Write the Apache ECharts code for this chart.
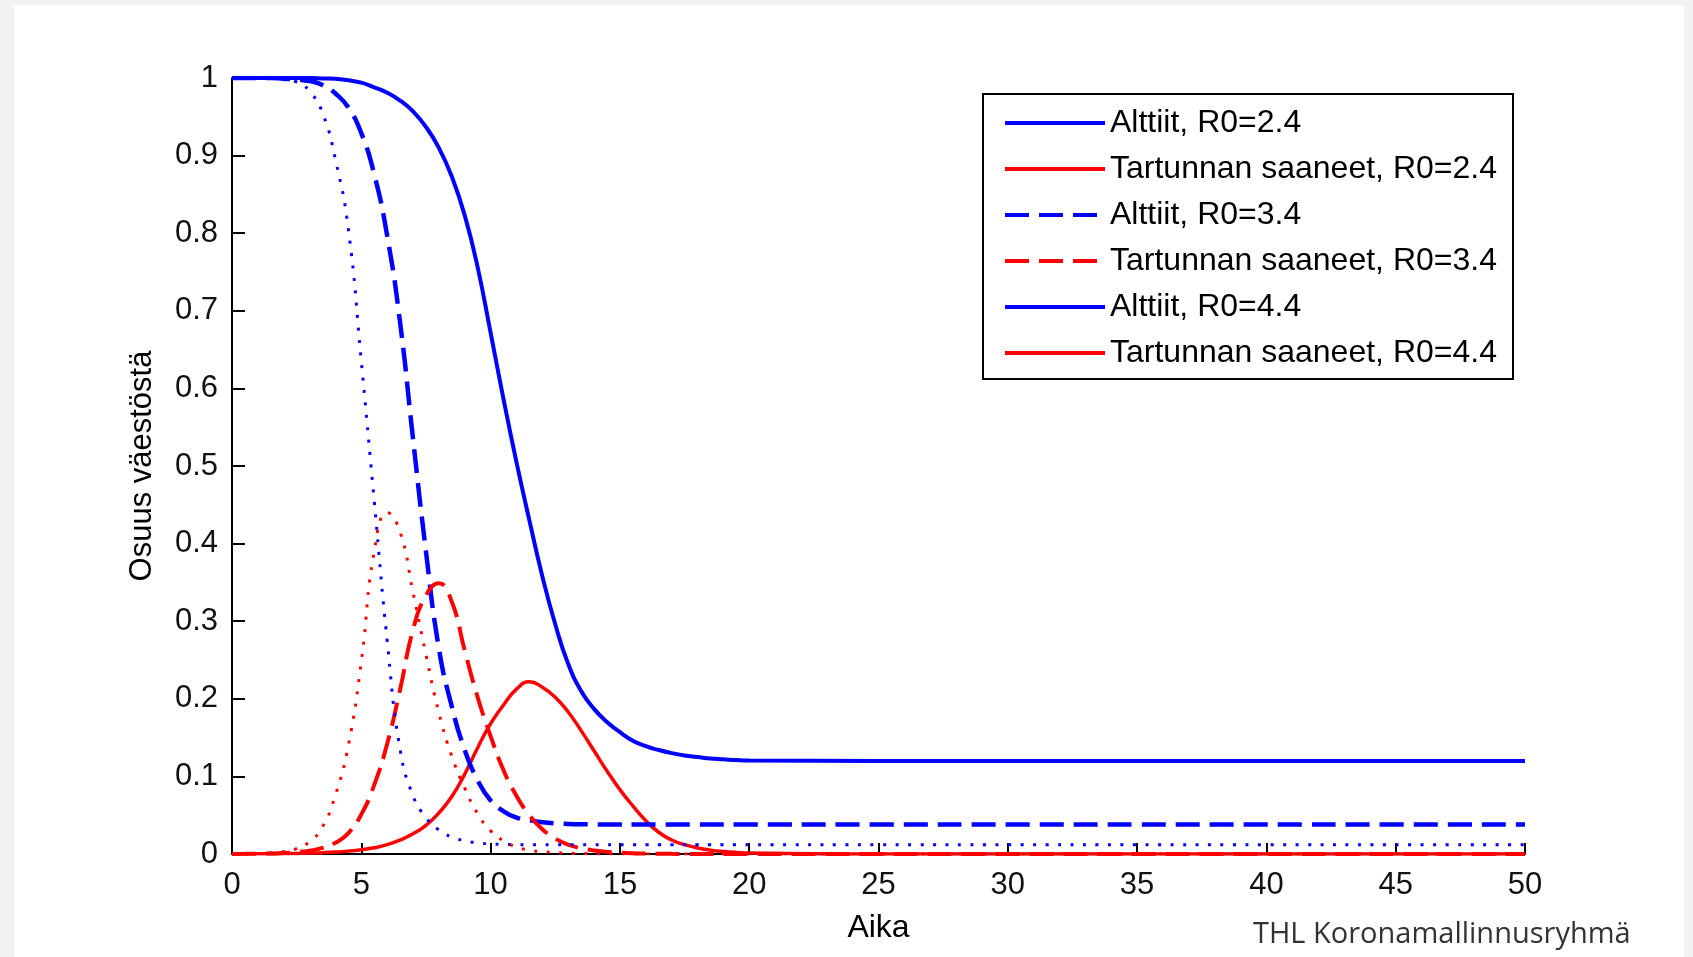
<!DOCTYPE html>
<html><head><meta charset="utf-8">
<script src="https://cdn.jsdelivr.net/npm/echarts@6/dist/echarts.min.js"></script>
<style>html,body{margin:0;padding:0;background:#f2f2f2;} #c{width:1693px;height:957px;}</style>
</head><body><div id="c"></div>
<script>
// time points (Aika)
const time = [0,0.5,1,1.5,2,2.5,3,3.5,4,4.5,5,5.5,6,6.5,7,7.5,8,8.5,9,9.5,10,10.5,11,11.5,12,12.5,13,13.5,14,14.5,15,15.5,16,16.5,17,17.5,18,18.5,19,19.5,20,25,30,35,40,45,50];
// Alttiit (susceptible), R0=2.4
const alttiit24 = [1,1,1,1,1,1,1,0.9995,0.999,0.997,0.994,0.988,0.981,0.971,0.957,0.937,0.91,0.873,0.823,0.756,0.672,0.586,0.505,0.43,0.358,0.296,0.245,0.21,0.187,0.17,0.157,0.146,0.139,0.134,0.13,0.127,0.125,0.123,0.122,0.121,0.1205,0.12,0.12,0.12,0.12,0.12,0.12];
// Tartunnan saaneet (infected), R0=2.4
const tartunnan24 = [0.0001,0.00015,0.0002,0.0003,0.0005,0.0008,0.0012,0.0017,0.0025,0.0037,0.0055,0.008,0.012,0.018,0.026,0.037,0.053,0.074,0.103,0.137,0.168,0.192,0.2125,0.222,0.215,0.202,0.183,0.159,0.133,0.107,0.083,0.062,0.043,0.028,0.018,0.012,0.0078,0.005,0.0032,0.002,0.0013,0,0,0,0,0,0];
// Alttiit, R0=3.4
const alttiit34 = [1,1,1,1,0.999,0.998,0.996,0.991,0.98,0.962,0.929,0.876,0.797,0.685,0.535,0.39,0.265,0.19,0.134,0.095,0.069,0.055,0.047,0.0435,0.041,0.0395,0.0388,0.0384,0.0382,0.0381,0.038,0.038,0.038,0.038,0.038,0.038,0.038,0.038,0.038,0.038,0.038,0.038,0.038,0.038,0.038,0.038,0.038];
// Tartunnan saaneet, R0=3.4
const tartunnan34 = [0.0001,0.0002,0.0004,0.0007,0.0013,0.0024,0.0043,0.0078,0.0145,0.027,0.051,0.089,0.142,0.212,0.289,0.333,0.349,0.325,0.262,0.202,0.152,0.108,0.075,0.05,0.032,0.02,0.012,0.0075,0.0045,0.0028,0.0017,0.001,0.0006,0.0004,0.0002,0.0001,0.0001,0,0,0,0,0,0,0,0,0,0];
// Alttiit, R0=4.4
const alttiit44 = [1,1,1,0.9995,0.998,0.995,0.983,0.955,0.895,0.805,0.635,0.455,0.275,0.135,0.075,0.047,0.031,0.022,0.017,0.0145,0.013,0.0125,0.012,0.012,0.012,0.012,0.012,0.012,0.012,0.012,0.012,0.012,0.012,0.012,0.012,0.012,0.012,0.012,0.012,0.012,0.012,0.012,0.012,0.012,0.012,0.012,0.012];
// Tartunnan saaneet, R0=4.4
const tartunnan44 = [0.0001,0.00023,0.00055,0.0013,0.003,0.007,0.016,0.035,0.076,0.14,0.248,0.39,0.44,0.415,0.337,0.257,0.182,0.126,0.085,0.052,0.03,0.017,0.009,0.005,0.003,0.002,0.001,0.0006,0.0004,0.0002,0.0001,0,0,0,0,0,0,0,0,0,0,0,0,0,0,0,0];

const seriesNames = ['Alttiit, R0=2.4','Tartunnan saaneet, R0=2.4','Alttiit, R0=3.4','Tartunnan saaneet, R0=3.4','Alttiit, R0=4.4','Tartunnan saaneet, R0=4.4'];
const seriesValues = [alttiit24, tartunnan24, alttiit34, tartunnan34, alttiit44, tartunnan44];
const xAxisTitle = 'Aika';
const yAxisTitle = 'Osuus väestöstä';
const sourceText = 'THL Koronamallinnusryhmä';

const BLUE = '#0000ff', RED = '#ff0000';
const styles = [
  {color: BLUE, type: 'solid', width: 4},
  {color: RED, type: 'solid', width: 3.5},
  {color: BLUE, type: [24, 10], width: 4.5},
  {color: RED, type: [24, 10], width: 4},
  {color: BLUE, type: [3, 9.5], width: 3},
  {color: RED, type: [3, 9.5], width: 3}
];

const series = seriesNames.map((name, i) => ({
  name: name,
  type: 'line',
  data: time.map((t, k) => [t, seriesValues[i][k]]),
  showSymbol: false,
  symbol: 'none',
  smooth: 0.5,
  lineStyle: {color: styles[i].color, type: styles[i].type, width: styles[i].width, cap: 'butt'},
  itemStyle: {color: styles[i].color},
  animation: false,
  silent: true
}));

const legendData = seriesNames.map((name, i) => {
  const o = {name: name, itemStyle: {opacity: 0}};
  o.lineStyle = {type: i >= 4 ? 'solid' : (i >= 2 ? [24, 10] : 'solid'), width: 4, color: styles[i].color};
  return o;
});

const chart = echarts.init(document.getElementById('c'), null, {renderer: 'canvas'});
chart.setOption({
  backgroundColor: '#f2f2f2',
  animation: false,
  textStyle: {fontFamily: 'Liberation Sans, Arial, sans-serif'},
  graphic: [
    {type: 'rect', shape: {x: 14, y: 5, width: 1670, height: 952}, style: {fill: '#ffffff'}, z: -10, silent: true},
    {type: 'rect', shape: {x: 983, y: 94, width: 530, height: 285}, style: {fill: '#ffffff', stroke: '#000000', lineWidth: 2}, z: 5, silent: true}
  ],
  title: {
    text: sourceText, left: 1253, top: 920, padding: 0,
    textStyle: {fontFamily: 'Open Sans', fontSize: 29, fontWeight: 'normal', color: '#333333'}
  },
  legend: {
    data: legendData,
    orient: 'vertical', left: 1003, top: 105, padding: 0,
    itemWidth: 100, itemHeight: 14, itemGap: 10,
    itemStyle: {opacity: 0, borderWidth: 0},
    textStyle: {fontFamily: 'Liberation Sans', fontSize: 32, color: '#000', lineHeight: 36},
    z: 10, selectedMode: false
  },
  grid: {left: 232, right: 168, top: 78, bottom: 103, containLabel: false},
  xAxis: {
    type: 'value', min: 0, max: 50, interval: 5,
    name: xAxisTitle, nameLocation: 'middle', nameGap: 58,
    nameTextStyle: {fontFamily: 'Liberation Sans', fontSize: 32, color: '#000'},
    axisLine: {show: true, onZero: false, lineStyle: {color: '#000', width: 2}},
    axisTick: {show: true, inside: true, length: 11, lineStyle: {color: '#000', width: 2}},
    axisLabel: {fontFamily: 'Liberation Sans', fontSize: 31, color: '#111', margin: 16},
    splitLine: {show: false}
  },
  yAxis: {
    type: 'value', min: 0, max: 1, interval: 0.1,
    name: yAxisTitle, nameLocation: 'middle', nameGap: 74,
    nameTextStyle: {fontFamily: 'Liberation Sans', fontSize: 31, color: '#000'},
    axisLine: {show: true, lineStyle: {color: '#000', width: 2}},
    axisTick: {show: true, inside: true, length: 13, lineStyle: {color: '#000', width: 2}},
    axisLabel: {fontFamily: 'Liberation Sans', fontSize: 31, color: '#111', margin: 14},
    splitLine: {show: false}
  },
  series: series
});
</script>
</body></html>
